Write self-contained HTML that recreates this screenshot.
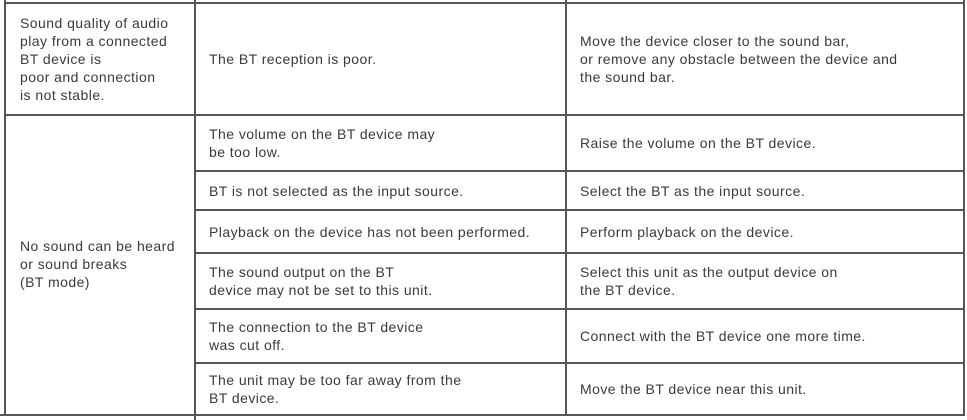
<!DOCTYPE html>
<html><head><style>
body{margin:0;width:967px;height:420px;background:#fff;position:relative;overflow:hidden;font-family:"Liberation Sans",sans-serif;font-size:14px;letter-spacing:0.45px;color:#3a3a3a;}
.h,.v{position:absolute;background:#555;}
.h{height:2px;}
.v{width:2px;}
.c{position:absolute;display:flex;align-items:center;line-height:18px;white-space:nowrap;}
</style></head><body>
<div class="h" style="left:4px;width:961px;top:2px"></div>
<div class="h" style="left:4px;width:961px;top:114px"></div>
<div class="h" style="left:194px;width:771px;top:170px"></div>
<div class="h" style="left:194px;width:771px;top:209px"></div>
<div class="h" style="left:194px;width:771px;top:252px"></div>
<div class="h" style="left:194px;width:771px;top:308px"></div>
<div class="h" style="left:194px;width:771px;top:362px"></div>
<div class="h" style="left:0;width:965px;top:414px"></div>
<div class="v" style="left:4px;top:0;height:416px"></div>
<div class="v" style="left:194px;top:0;height:420px"></div>
<div class="v" style="left:565px;top:0;height:416px"></div>
<div class="v" style="left:963px;top:0;height:416px"></div>

<div class="c" style="left:20px;top:4px;height:110px">Sound quality of audio<br>play from a connected<br>BT device is<br>poor and connection<br>is not stable.</div>
<div class="c" style="left:209px;top:4px;height:110px">The BT reception is poor.</div>
<div class="c" style="left:580px;top:4px;height:110px">Move the device closer to the sound bar,<br>or remove any obstacle between the device and<br>the sound bar.</div>

<div class="c" style="left:20px;top:236px;height:56px">No sound can be heard<br>or sound breaks<br>(BT mode)</div>

<div class="c" style="left:209px;top:116px;height:54px">The volume on the BT device may<br>be too low.</div>
<div class="c" style="left:580px;top:116px;height:54px">Raise the volume on the BT device.</div>
<div class="c" style="left:209px;top:172px;height:37px">BT is not selected as the input source.</div>
<div class="c" style="left:580px;top:172px;height:37px">Select the BT as the input source.</div>
<div class="c" style="left:209px;top:211px;height:41px">Playback on the device has not been performed.</div>
<div class="c" style="left:580px;top:211px;height:41px">Perform playback on the device.</div>
<div class="c" style="left:209px;top:254px;height:54px">The sound output on the BT<br>device may not be set to this unit.</div>
<div class="c" style="left:580px;top:254px;height:54px">Select this unit as the output device on<br>the BT device.</div>
<div class="c" style="left:209px;top:310px;height:52px">The connection to the BT device<br>was cut off.</div>
<div class="c" style="left:580px;top:310px;height:52px">Connect with the BT device one more time.</div>
<div class="c" style="left:209px;top:364px;height:50px">The unit may be too far away from the<br>BT device.</div>
<div class="c" style="left:580px;top:364px;height:50px">Move the BT device near this unit.</div>
</body></html>
